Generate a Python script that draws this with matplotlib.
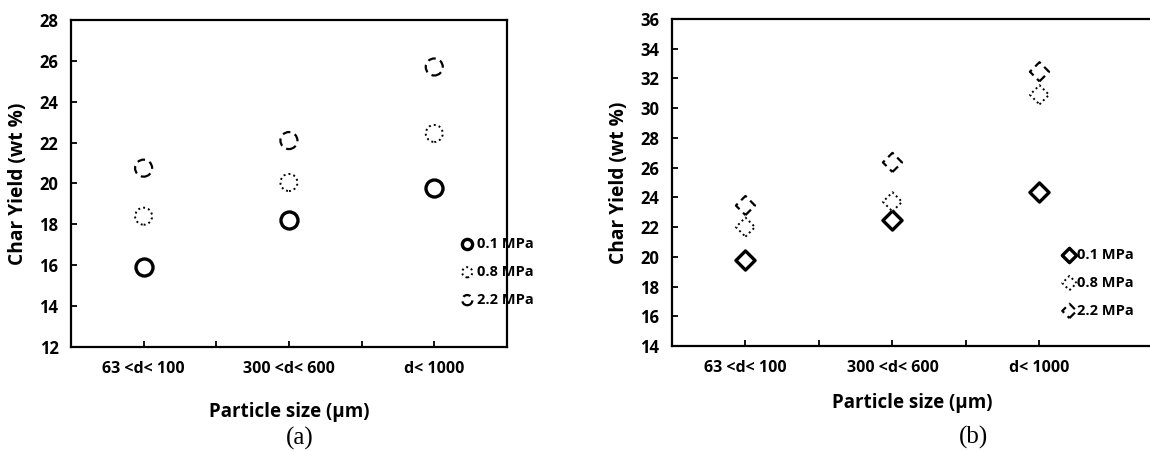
import matplotlib
matplotlib.use("Agg")
import matplotlib.pyplot as plt

plt.rcParams['font.family'] = ['Open Sans', 'DejaVu Sans']
plt.rcParams['font.weight'] = 'bold'

categories = ["63 <d< 100", "300 <d< 600", "d< 1000"]
pressures = ["0.1 MPa", "0.8 MPa", "2.2 MPa"]

# panel (a), circles
yield_a_01 = [15.9, 18.2, 19.8]
yield_a_08 = [18.4, 20.05, 22.45]
yield_a_22 = [20.75, 22.1, 25.7]

# panel (b), diamonds
yield_b_01 = [19.8, 22.45, 24.35]
yield_b_08 = [22.0, 23.7, 30.9]
yield_b_22 = [23.45, 26.35, 32.45]

edge_styles = ['solid', (0, (1.0, 1.6)), (0, (3.5, 2.2))]
edge_widths = [2.4, 1.4, 1.6]

fig = plt.figure(figsize=(11.5, 4.51), dpi=100)
ax_a = fig.add_axes([0.0617, 0.2306, 0.3791, 0.7251])
ax_b = fig.add_axes([0.5843, 0.2328, 0.4174, 0.7251])

x = [1, 2, 3]


def style_axis(ax, ylim, yticks, xright, xpad):
    ax.set_xlim(0.5, xright)
    ax.set_ylim(*ylim)
    ax.set_yticks(yticks)
    ax.set_xticks(x)
    ax.set_xticklabels(categories, fontsize=11.5, fontweight='bold')
    ax.set_xticks([1.5, 2.5], minor=True)
    ax.tick_params(axis='both', which='both', direction='in', length=4, width=1.3)
    ax.tick_params(axis='y', labelsize=12, pad=9)
    ax.tick_params(axis='x', pad=10)
    for s in ['left', 'bottom', 'top', 'right']:
        ax.spines[s].set_linewidth(1.6)
    ax.set_ylabel("Char Yield (wt %)", fontsize=13.8, fontweight='bold', labelpad=8)
    ax.set_xlabel("Particle size (\u03bcm)", fontsize=13.5, fontweight='bold', labelpad=xpad)


for ys, lab, ls, lw in zip([yield_a_01, yield_a_08, yield_a_22], pressures, edge_styles, edge_widths):
    ax_a.scatter(x, ys, s=150, marker='o', facecolors='white', edgecolors='black',
                 linewidths=lw, linestyles=ls, label=lab, zorder=3)

for ys, lab, ls, lw in zip([yield_b_01, yield_b_08, yield_b_22], pressures, edge_styles, edge_widths):
    ax_b.scatter(x, ys, s=95, marker='D', facecolors='white', edgecolors='black',
                 linewidths=lw, linestyles=ls, label=lab, zorder=3)

style_axis(ax_a, (12, 28), range(12, 29, 2), 3.5, 18)
style_axis(ax_b, (14, 36), range(14, 37, 2), 3.765, 12)
ax_b.spines['right'].set_visible(False)

leg_kw = dict(frameon=False, loc='center left', borderpad=0, borderaxespad=0,
              handlelength=0.6, labelspacing=0.95,
              prop={'weight': 'bold', 'size': 10.5})
ax_a.legend(bbox_to_anchor=(0.899, 0.229), markerscale=0.6, handletextpad=0.35, **leg_kw)
ax_b.legend(bbox_to_anchor=(0.819, 0.193), markerscale=0.75, handletextpad=0.2, **leg_kw)

fig.text(300 / 1150, 1 - 438 / 451, "(a)", family='Liberation Serif', fontweight='normal',
         fontsize=18, ha='center', va='center')
fig.text(974 / 1150, 1 - 437 / 451, "(b)", family='Liberation Serif', fontweight='normal',
         fontsize=18, ha='center', va='center')

fig.savefig("out.png", dpi=100)
plt.close()
